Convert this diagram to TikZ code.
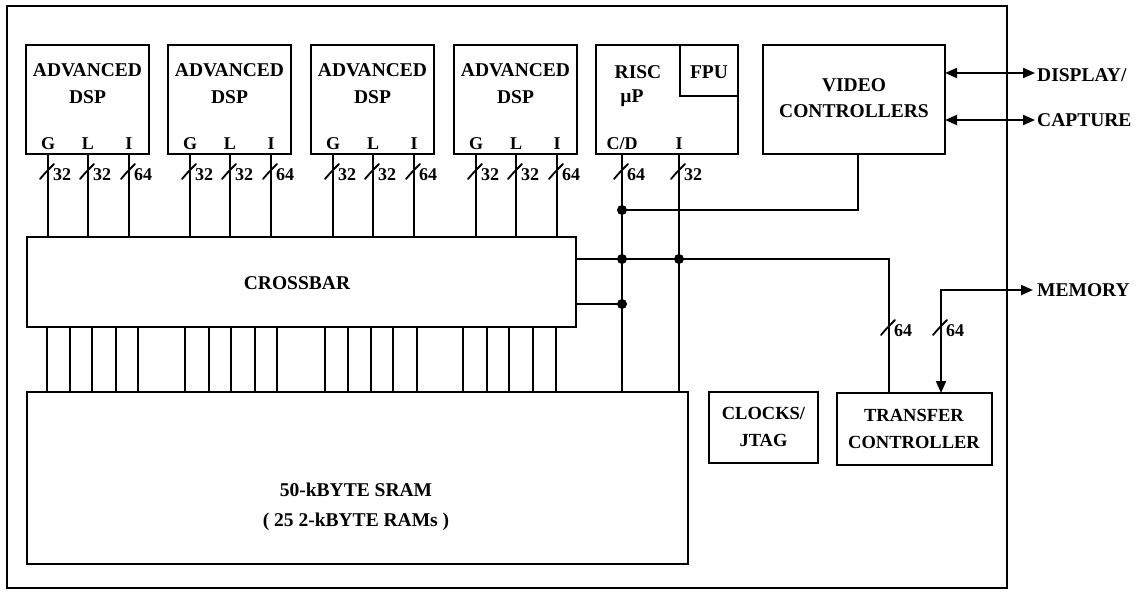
\documentclass[tikz,border=0pt]{standalone}
\usepackage{fontspec}
\setmainfont{Liberation Serif}
\usetikzlibrary{arrows.meta}
\begin{document}
\begin{tikzpicture}[x=1pt,y=-1pt,
  blk/.style={draw, line width=1.9pt, inner sep=0pt, outer sep=0pt, anchor=north west},
  wire/.style={line width=1.9pt},
  slashmark/.style={line width=1.8pt, line cap=round},
  txt/.style={font=\fontsize{19.5}{26}\selectfont\bfseries, inner sep=0pt, align=center},
  stxt/.style={font=\fontsize{18.5}{27}\selectfont\bfseries, inner sep=0pt, align=center},
  pin/.style={font=\fontsize{18}{20}\selectfont\bfseries, inner sep=0pt},
  bw/.style={font=\fontsize{18}{20}\selectfont\bfseries, inner sep=0pt, anchor=west},
  dot/.style={fill=black},
  tips/.style={{Triangle[length=12pt,width=10pt]}-{Triangle[length=12pt,width=10pt]}}
]
\useasboundingbox (0,0) rectangle (1144,597);

% outer frame
\node[blk, minimum width=1000pt, minimum height=582pt] (frame) at (7,6) {};

% crossbar and SRAM
\node[blk, minimum width=549pt, minimum height=90pt] (xbar) at (27,237) {};
\node[txt] (xbart) at (297,283) {CROSSBAR};
\node[blk, minimum width=661pt, minimum height=172pt] (sram) at (27,392) {};
\node[txt] (sram1) at (356,490) {50-kBYTE SRAM};
\node[txt] (sram2) at (356,522) {( 25 2-kBYTE RAMs )};

% DSPs
\foreach \k/\L in {1/26,2/168,3/311,4/454} {
  \node[blk, minimum width=123pt, minimum height=109pt] (dsp\k) at (\L,45) {};
  \node[txt] (dsp\k a) at (\L+61.5,70) {ADVANCED};
  \node[txt] (dsp\k b) at (\L+61.5,97) {DSP};
  \foreach \p/\o/\w in {G/22/32, L/62/32, I/103/64} {
    \coordinate (dsp\k\p) at (\L+\o,154);
    \node[pin] (dsp\k\p t) at (\L+\o,144) {\p};
    \draw[wire] (dsp\k\p) -- (dsp\k\p |- xbar.north);
    \draw[slashmark] (\L+\o-8,179) .. controls (\L+\o-2,172) .. (\L+\o+6,164);
    \node[bw] (dsp\k\p w) at (\L+\o+5,175) {\w};
  }
}

% crossbar to SRAM lines
\foreach \x in {47,70,92,116,138,185,209,231,255,277,325,348,371,393,417,463,487,509,533,556} {
  \draw[wire] (xbar.south -| \x,0) -- (sram.north -| \x,0);
}

% RISC
\node[blk, minimum width=142pt, minimum height=109pt] (risc) at (596,45) {};
\node[blk, minimum width=58pt, minimum height=51pt] (fpu) at (680,45) {};
\node[txt] (risct) at (638,72) {RISC};
\node[txt] (riscu) at (632,98) {µP};
\node[txt] (fput) at (709,72) {FPU};
\coordinate (cd) at (622,154);
\coordinate (ri) at (679,154);
\node[pin] (cdt) at (622,144) {C/D};
\node[pin] (rit) at (679,144) {I};
\draw[wire] (cd) -- (cd |- sram.north);
\draw[wire] (ri) -- (ri |- sram.north);
\draw[slashmark] (614,179) .. controls (620,172) .. (628,164);
\node[bw] (cdw) at (627,175) {64};
\draw[slashmark] (671,179) .. controls (677,172) .. (685,164);
\node[bw] (riw) at (684,175) {32};

% video controllers
\node[blk, minimum width=182pt, minimum height=109pt] (video) at (763,45) {};
\node[txt] (videot) at (854,98) {VIDEO\\CONTROLLERS};
\coordinate (vb) at (858,154);
\coordinate (vj) at (622,210);
\draw[wire] (vb) |- (vj);
\node[txt, anchor=west] (disp) at (1037,75) {DISPLAY/};
\node[txt, anchor=west] (capt) at (1037,120) {CAPTURE};
\draw[wire, tips] (video.east |- 0,73) -- (1035,73);
\draw[wire, tips] (video.east |- 0,120) -- (1035,120);

% clocks and transfer controller
\node[blk, minimum width=109pt, minimum height=71pt] (clk) at (709,392) {};
\node[stxt] (clkt) at (763.5,427) {CLOCKS/\\JTAG};
\node[blk, minimum width=155pt, minimum height=72pt] (tc) at (837,393) {};
\node[stxt] (tct) at (914,429) {TRANSFER\\CONTROLLER};

\coordinate (j1) at (622,259);
\coordinate (j2) at (679,259);
\coordinate (j3) at (622,304);
\coordinate (tcin) at (889,393);
\draw[wire] (xbar.east |- j1) -| (tcin);
\draw[wire] (xbar.east |- j3) -- (j3);
\draw[slashmark] (881,335) .. controls (887,328) .. (895,320);
\node[bw] (tcw) at (894,331) {64};

\coordinate (tcm) at (941,393);
\coordinate (memc) at (1033,290);
\node[txt, anchor=west] (mem) at (1037,290) {MEMORY};
\draw[wire, tips] (tcm) |- (memc);
\draw[slashmark] (933,335) .. controls (939,328) .. (947,320);
\node[bw] (memw) at (946,331) {64};

% junction dots
\foreach \j in {vj,j1,j2,j3} { \fill[dot] (\j) circle[radius=5pt]; }
\end{tikzpicture}
\end{document}
